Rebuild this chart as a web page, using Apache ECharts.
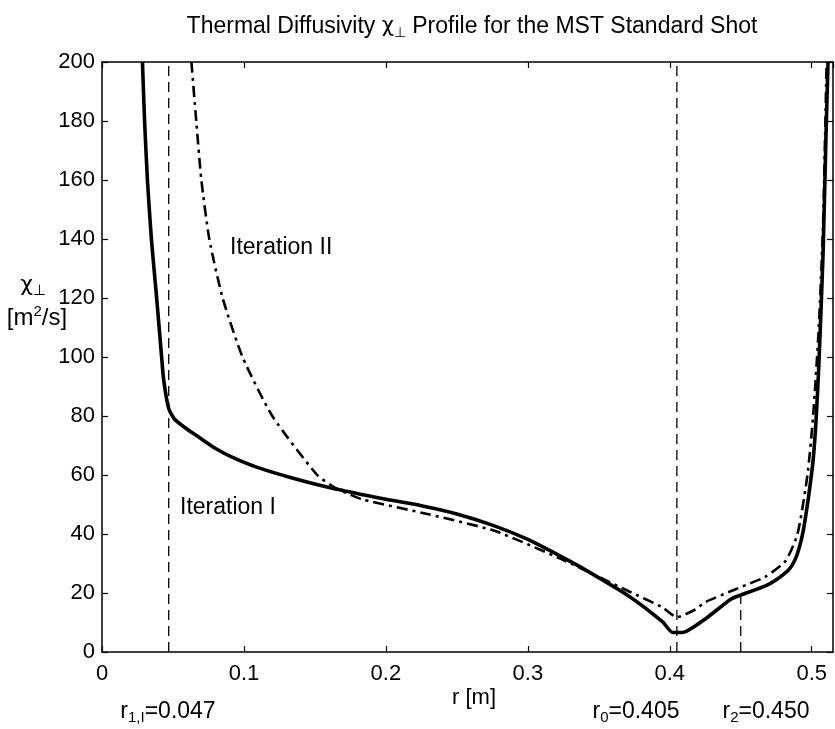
<!DOCTYPE html>
<html><head><meta charset="utf-8">
<script src="https://cdn.jsdelivr.net/npm/echarts@6/dist/echarts.min.js"></script>
<style>html,body{margin:0;padding:0;background:#fff}#c{width:835px;height:729px}</style>
</head><body><div id="c"></div>
<script>
// Iteration I (solid)
const rIter1 = [0.0285,0.030,0.032,0.0348,0.0385,0.042,0.0435,0.047,0.051,0.06,0.0686,0.08,0.092,0.11,0.134,0.16,0.2,0.225,0.25,0.275,0.3,0.318,0.336,0.371,0.395,0.402,0.409,0.425,0.443,0.450,0.467,0.475,0.484,0.488,0.491,0.494,0.497,0.499,0.501,0.503,0.505,0.508,0.510,0.5115];
const chiIter1 = [200,180,160,140,120,100,92,82.5,79,75.5,72.7,69,66,62.5,59,55.8,51.8,49.6,46.8,43,38.2,33.8,29.1,19,10.2,6.6,6.6,11.2,17.9,19.3,22.3,24.5,28,31,35,41,50,57,65,78,97,135,174,200];
// Iteration II (dash-dot)
const rIter2 = [0.063,0.0664,0.070,0.0756,0.085,0.099,0.120,0.1516,0.165,0.183,0.230,0.277,0.324,0.371,0.395,0.405,0.418,0.425,0.442,0.450,0.467,0.4815,0.490,0.497,0.501,0.505,0.508,0.5105];
const chiIter2 = [200,180,160,140,120,100,80,60,55.5,51.8,46.7,41,31.4,20.6,15.1,11.8,14.4,16.9,20.4,22,25.4,30.8,40,60,80,110,145,200];
// vertical reference lines
const markR = [0.047, 0.405, 0.450];
const markTop = [200, 200, 19.3];
const xTicks = [0, 0.1, 0.2, 0.3, 0.4, 0.5];
const yTicks = [0, 20, 40, 60, 80, 100, 120, 140, 160, 180, 200];

const FONT = "'Liberation Sans', Arial, Helvetica, sans-serif";
const GREEK = "'DejaVu Sans', 'Liberation Sans', sans-serif";
const zip = (a, b) => a.map((v, i) => [v, b[i]]);

const chart = echarts.init(document.getElementById('c'), null, {renderer: 'canvas'});
const xLabel = v => {
  const k = xTicks.find(t => Math.abs(t - v) < 1e-9);
  return k === undefined ? '' : (k === 0 ? '0' : k.toFixed(1));
};
const yLabel = v => yTicks.includes(Math.round(v)) && Math.abs(v - Math.round(v)) < 1e-9 ? String(Math.round(v)) : '';

function makeAxis(kind, pos, showLabel) {
  const isX = kind === 'x';
  return {
    type: 'value', min: 0, max: isX ? 0.515 : 200, interval: isX ? 0.1 : 20, position: pos,
    axisLine: {show: true, onZero: false, lineStyle: {color: '#000', width: 1.5}},
    axisTick: {show: true, inside: true, length: 6, lineStyle: {color: '#000', width: 1.2}},
    splitLine: {show: false},
    axisLabel: showLabel ? {show: true, inside: false, formatter: isX ? xLabel : yLabel, color: '#000', fontSize: 22,
      fontFamily: FONT, margin: isX ? 11 : 7, showMaxLabel: isX ? false : true} : {show: false}
  };
}

const series = [
  {type: 'line', data: zip(rIter1, chiIter1), showSymbol: false, symbol: 'none', smooth: 0.2,
   lineStyle: {color: '#000', width: 3.6}, z: 5, clip: true},
  {type: 'line', data: zip(rIter2, chiIter2), showSymbol: false, symbol: 'none', smooth: 0.2,
   lineStyle: {color: '#000', width: 2.6, type: [11, 5, 3, 5]}, z: 4, clip: true}
];
markR.forEach((r, i) => series.push({
  type: 'line', data: [[r, 0], [r, markTop[i]]], showSymbol: false, symbol: 'none',
  lineStyle: {color: '#000', width: 1.3, type: [10, 6]}, z: 3
}));

const sub = (fs, pad) => ({fontSize: fs, fontFamily: FONT, color: '#000', lineHeight: 20, padding: [pad, 0, 0, 0]});
const nrm = fs => ({fontSize: fs, fontFamily: FONT, color: '#000', lineHeight: 30});
const grk = fs => ({fontSize: fs, fontFamily: GREEK, color: '#000', lineHeight: 30});

chart.setOption({
  animation: false,
  backgroundColor: '#fff',
  grid: {left: 102, top: 62, right: 2, bottom: 77, show: false},
  xAxis: [makeAxis('x', 'bottom', true), makeAxis('x', 'top', false)],
  yAxis: [makeAxis('y', 'left', true), makeAxis('y', 'right', false)],
  series: series,
  graphic: [
    {type: 'text', x: 472, y: 27, style: {text: '{n|Thermal Diffusivity }{g|χ}{s|⊥}{n| Profile for the MST Standard Shot}',
      rich: {n: nrm(23), g: grk(21), s: sub(14, 12)}, align: 'center', verticalAlign: 'middle'}},
    {type: 'text', x: 230, y: 248, style: {text: 'Iteration II', font: '23px ' + FONT, fill: '#000', align: 'left', verticalAlign: 'middle'}},
    {type: 'text', x: 180, y: 508, style: {text: 'Iteration I', font: '23px ' + FONT, fill: '#000', align: 'left', verticalAlign: 'middle'}},
    {type: 'text', x: 474, y: 698, style: {text: 'r [m]', font: '22px ' + FONT, fill: '#000', align: 'center', verticalAlign: 'middle'}},
    {type: 'text', x: 168, y: 712, style: {text: '{n|r}{s|1,I}{n|=0.047}', rich: {n: nrm(23), s: sub(15, 12)}, align: 'center', verticalAlign: 'middle'}},
    {type: 'text', x: 636, y: 712, style: {text: '{n|r}{s|0}{n|=0.405}', rich: {n: nrm(23), s: sub(15, 12)}, align: 'center', verticalAlign: 'middle'}},
    {type: 'text', x: 766, y: 712, style: {text: '{n|r}{s|2}{n|=0.450}', rich: {n: nrm(23), s: sub(15, 12)}, align: 'center', verticalAlign: 'middle'}},
    {type: 'text', x: 33, y: 285, style: {text: '{g|χ}{s|⊥}', rich: {g: grk(22), s: sub(15, 12)}, align: 'center', verticalAlign: 'middle'}},
    {type: 'text', x: 37, y: 318, style: {text: '{n|[m}{p|2}{n|/s]}', rich: {n: nrm(24), p: {fontSize: 15, fontFamily: FONT, color: '#000', lineHeight: 20, padding: [0, 0, 12, 0]}}, align: 'center', verticalAlign: 'middle'}}
  ]
});
</script></body></html>
